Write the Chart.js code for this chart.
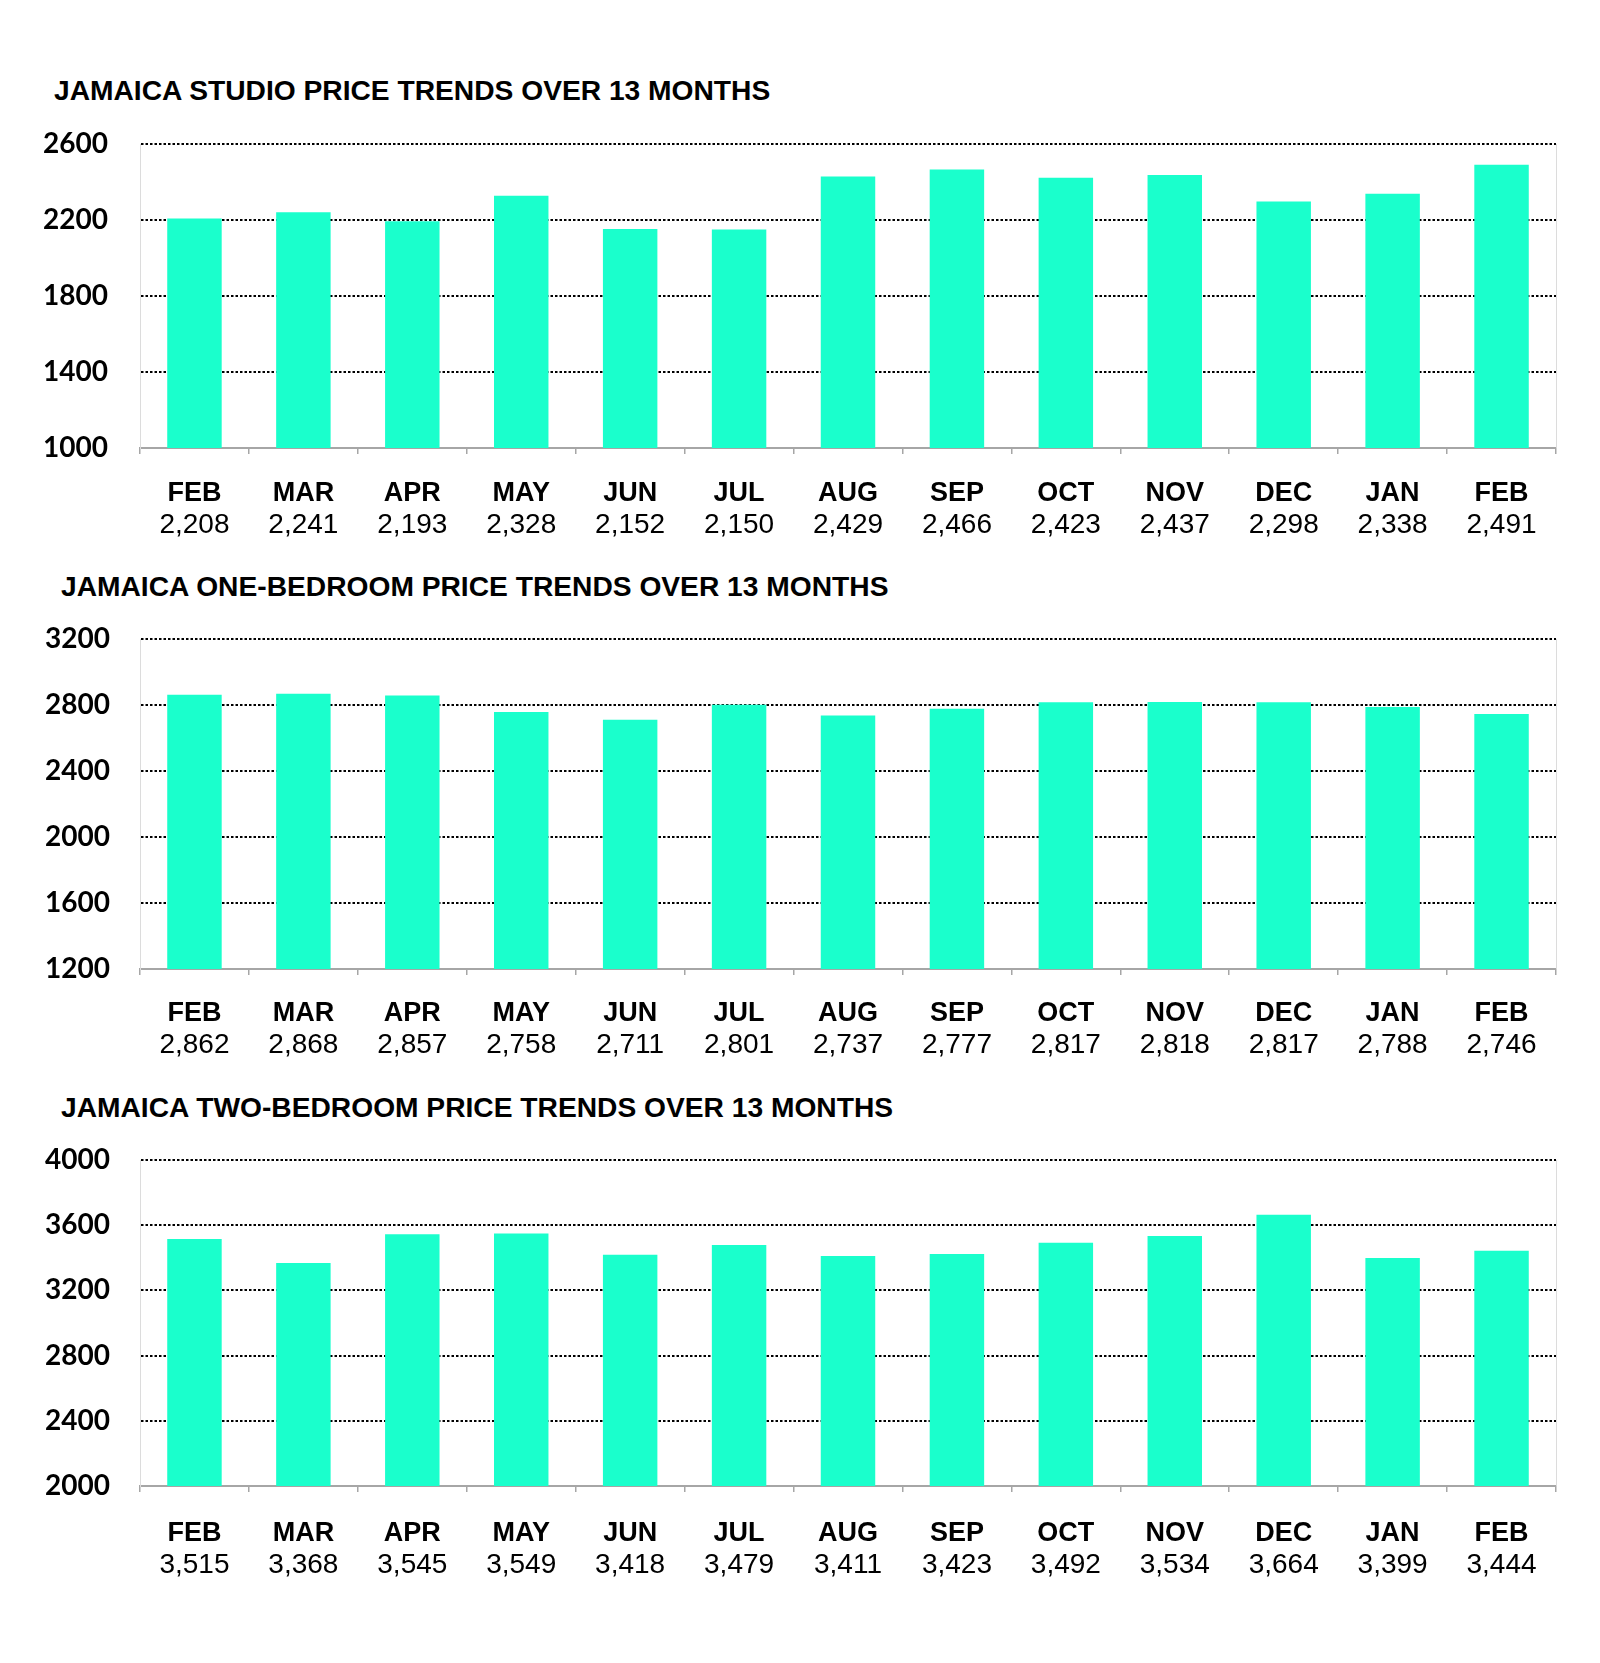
<!DOCTYPE html>
<html>
<head>
<meta charset="utf-8">
<script src="https://cdn.jsdelivr.net/npm/chart.js@4/dist/chart.umd.min.js"></script>
<style>
  body { margin: 0; background: #fff; width: 1600px; height: 1663px; position: relative; overflow: hidden; }
  canvas { position: absolute; left: 0; }
  .title {
    position: absolute;
    font-family: "Liberation Sans", Arial, sans-serif;
    font-weight: bold;
    font-size: 28.2px;
    line-height: 28px;
    color: #000;
    white-space: nowrap;
  }
</style>
</head>
<body>
<div class="title" id="t1" style="left:54px; top:76px"></div>
<div class="title" id="t2" style="left:61px; top:572px"></div>
<div class="title" id="t3" style="left:61px; top:1093px"></div>
<canvas id="studio" width="1600" height="442" style="top:98px"></canvas>
<canvas id="oneBed" width="1600" height="465" style="top:595px"></canvas>
<canvas id="twoBed" width="1600" height="464" style="top:1116px"></canvas>
<script>
// months shown under each bar
const months = ["FEB", "MAR", "APR", "MAY", "JUN", "JUL", "AUG", "SEP", "OCT", "NOV", "DEC", "JAN", "FEB"];

// average prices per month
const studioPrices = [2208, 2241, 2193, 2328, 2152, 2150, 2429, 2466, 2423, 2437, 2298, 2338, 2491];
const oneBedPrices = [2862, 2868, 2857, 2758, 2711, 2801, 2737, 2777, 2817, 2818, 2817, 2788, 2746];
const twoBedPrices = [3515, 3368, 3545, 3549, 3418, 3479, 3411, 3423, 3492, 3534, 3664, 3399, 3444];

const titles = [
    "JAMAICA STUDIO PRICE TRENDS OVER 13 MONTHS",
    "JAMAICA ONE-BEDROOM PRICE TRENDS OVER 13 MONTHS",
    "JAMAICA TWO-BEDROOM PRICE TRENDS OVER 13 MONTHS"
];

// y axis ranges [min, max, step]
const studioRange = [1000, 2600, 400];
const oneBedRange = [1200, 3200, 400];
const twoBedRange = [2000, 4000, 400];

const BAR_COLOR = "#1affcc";
const AXIS_GRAY = "#a6a6a6";

document.getElementById("t1").textContent = titles[0];
document.getElementById("t2").textContent = titles[1];
document.getElementById("t3").textContent = titles[2];

// draws the faint right edge of the plot area
const rightEdge = {
    id: "rightEdge",
    beforeDatasetsDraw(chart) {
        const { ctx, chartArea } = chart;
        ctx.save();
        ctx.strokeStyle = "#dcdcdc";
        ctx.lineWidth = 1;
        ctx.beginPath();
        ctx.moveTo(chartArea.right + 0.5, chartArea.top);
        ctx.lineTo(chartArea.right + 0.5, chartArea.bottom);
        ctx.stroke();
        ctx.restore();
    }
};

function makeChart(id, values, range, lay) {
    const [yMin, yMax, yStep] = range;
    const ctx = document.getElementById(id).getContext("2d");
    return new Chart(ctx, {
        type: "bar",
        data: {
            labels: months,
            datasets: [{
                data: values,
                xAxisID: "x",
                backgroundColor: BAR_COLOR,
                borderWidth: 0,
                barPercentage: 0.5,
                categoryPercentage: 1
            }]
        },
        plugins: [rightEdge],
        options: {
            responsive: false,
            animation: false,
            // top space comes from the y axis (half label + tick padding)
            layout: { padding: { left: 0, right: 44, top: 0, bottom: 1 } },
            plugins: {
                legend: { display: false },
                tooltip: { enabled: false }
            },
            scales: {
                x: {
                    position: "bottom",
                    weight: 0,
                    offset: true,
                    // month names: tick + padding + one line of text
                    afterFit(scale) { scale.height = 6 + lay.labelPad + 27; },
                    grid: {
                        display: true,
                        drawOnChartArea: false,
                        drawTicks: true,
                        tickLength: 6,
                        color: AXIS_GRAY,
                        lineWidth: 1.5,
                        offset: true
                    },
                    border: { display: true, color: AXIS_GRAY, width: 2 },
                    ticks: {
                        color: "#000",
                        padding: lay.labelPad,
                        maxRotation: 0,
                        autoSkip: false,
                        font: { family: "'Liberation Sans', Arial, sans-serif", size: 27, weight: "bold", lineHeight: 1 }
                    }
                },
                x2: {
                    type: "category",
                    position: "bottom",
                    weight: 1,
                    offset: true,
                    labels: values.map(v => v.toLocaleString("en-US")),
                    afterFit(scale) { scale.height = lay.valuePad + 28; },
                    grid: { display: false, drawTicks: false },
                    border: { display: false },
                    ticks: {
                        color: "#000",
                        padding: lay.valuePad,
                        maxRotation: 0,
                        autoSkip: false,
                        font: { family: "'Liberation Sans', Arial, sans-serif", size: 28, weight: "normal", lineHeight: 1 }
                    }
                },
                y: {
                    min: yMin,
                    max: yMax,
                    afterFit(scale) { scale.width = 140; },
                    grid: {
                        drawTicks: false,
                        color: c => (c.tick && c.tick.value === yMin) ? "rgba(0,0,0,0)" : "#000",
                        lineWidth: 2
                    },
                    border: { display: true, color: "#dcdcdc", width: 1, dash: [2.5, 2] },
                    ticks: {
                        stepSize: yStep,
                        padding: lay.yPad,
                        color: "#000",
                        callback: v => v,
                        font: { family: "Lato, 'Open Sans', sans-serif", size: 28, weight: "bold", lineHeight: 1 }
                    }
                }
            }
        }
    });
}

makeChart("studio", studioPrices, studioRange, { labelPad: 26, valuePad: 4, yPad: 32 });
makeChart("oneBed", oneBedPrices, oneBedRange, { labelPad: 25, valuePad: 4, yPad: 30 });
makeChart("twoBed", twoBedPrices, twoBedRange, { labelPad: 28, valuePad: 4, yPad: 30 });
</script>
</body>
</html>
